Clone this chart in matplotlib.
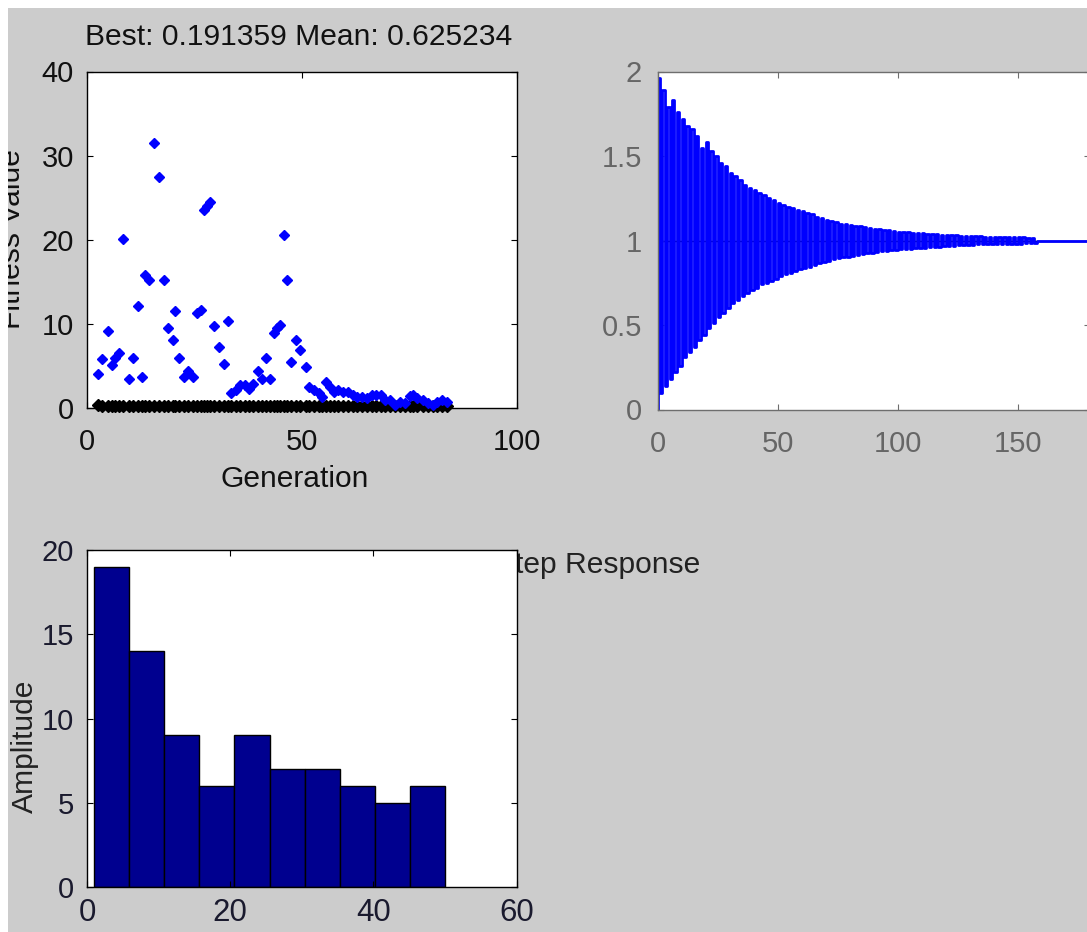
import matplotlib
matplotlib.use("Agg")
import matplotlib.pyplot as plt
from matplotlib.patches import Rectangle

plt.rcParams['font.family'] = ['Liberation Sans', 'DejaVu Sans']

# ---------------- data ----------------
# GA fitness plot (mean = blue, best = black)
gen_x = [2.6, 3.6, 4.8, 5.9, 6.5, 7.5, 8.4, 9.8, 10.8, 11.8, 12.9, 13.5, 14.5, 15.6, 16.7,
         17.8, 18.8, 19.9, 20.5, 21.5, 22.6, 23.6, 24.7, 25.5, 26.4, 27.3, 28.0, 28.6, 29.6,
         30.8, 31.9, 32.9, 33.6, 34.6, 35.6, 36.7, 37.7, 38.7, 39.8, 40.6, 41.6, 42.6, 43.6,
         44.3, 44.9, 45.8, 46.4, 47.4, 48.6, 49.5, 50.9, 51.7, 52.9, 54.0, 54.6, 55.5, 56.4,
         57.4, 58.4, 59.6, 60.6, 61.8, 62.9, 63.9, 65.0, 66.2, 67.2, 68.3, 69.3, 70.5, 71.6,
         72.8, 74.0, 75.1, 75.9, 76.8, 78.2, 79.4, 80.4, 81.3, 82.5, 83.7]
mean_fit = [4.05, 5.8, 9.2, 5.1, 6.0, 6.5, 20.1, 3.5, 6.0, 12.1, 3.7, 15.8, 15.2, 31.5, 27.5,
            15.2, 9.5, 8.1, 11.5, 6.0, 3.7, 4.4, 3.7, 11.3, 11.6, 23.5, 24.0, 24.5, 9.8,
            7.2, 5.2, 10.4, 1.75, 2.1, 2.7, 2.7, 2.3, 2.9, 4.4, 3.5, 6.0, 3.5, 8.9,
            9.5, 9.9, 20.6, 15.2, 5.5, 8.1, 6.9, 4.9, 2.5, 2.1, 1.75, 1.35, 3.1, 2.5,
            1.9, 2.1, 1.9, 1.9, 1.55, 1.35, 1.35, 1.15, 1.55, 1.55, 1.55, 0.95, 0.95, 0.35,
            0.75, 0.55, 1.45, 1.55, 1.15, 0.95, 0.55, 0.35, 0.75, 0.95, 0.75]
best_fit = [0.30, 0.29, 0.28, 0.27, 0.26, 0.26, 0.25, 0.25, 0.24, 0.24, 0.24, 0.23, 0.23, 0.23, 0.23,
            0.22, 0.22, 0.22, 0.22, 0.22, 0.22, 0.21, 0.21, 0.21, 0.21, 0.21, 0.21, 0.21, 0.21,
            0.21, 0.20, 0.20, 0.20, 0.20, 0.20, 0.20, 0.20, 0.20, 0.20, 0.20, 0.20, 0.20, 0.20,
            0.20, 0.20, 0.20, 0.20, 0.20, 0.20, 0.20, 0.20, 0.20, 0.20, 0.20, 0.20, 0.20, 0.20,
            0.20, 0.20, 0.20, 0.20, 0.20, 0.20, 0.20, 0.20, 0.19, 0.19, 0.19, 0.19, 0.19, 0.19,
            0.19, 0.19, 0.19, 0.19, 0.19, 0.19, 0.19, 0.19, 0.19, 0.19, 0.19]
best_val = 0.191359
mean_val = 0.625234

# step response: per-cycle excursions above / below the final value 1
step_upper = [0.96, 0.89, 0.79, 0.83, 0.76, 0.72, 0.68, 0.66, 0.62, 0.55, 0.58, 0.53, 0.50, 0.46,
              0.44, 0.40, 0.38, 0.36, 0.33, 0.31, 0.30, 0.28, 0.27, 0.25, 0.24, 0.22, 0.21, 0.20,
              0.19, 0.18, 0.175, 0.16, 0.155, 0.14, 0.135, 0.12, 0.115, 0.11, 0.10, 0.097, 0.093,
              0.088, 0.083, 0.078, 0.074, 0.07, 0.067, 0.063, 0.06, 0.056, 0.053, 0.051, 0.049,
              0.047, 0.045, 0.043, 0.041, 0.039, 0.037, 0.035, 0.034, 0.032, 0.030, 0.028, 0.026,
              0.024, 0.024, 0.024, 0.023, 0.023, 0.022, 0.022, 0.021, 0.021, 0.020, 0.020, 0.018,
              0.017, 0.015]
step_lower = [0.90, 0.86, 0.82, 0.78, 0.74, 0.69, 0.66, 0.63, 0.59, 0.56, 0.52, 0.49, 0.45, 0.43,
              0.40, 0.37, 0.35, 0.33, 0.31, 0.29, 0.28, 0.26, 0.25, 0.24, 0.23, 0.21, 0.20, 0.19,
              0.18, 0.17, 0.165, 0.155, 0.145, 0.135, 0.125, 0.12, 0.11, 0.105, 0.10, 0.095, 0.09,
              0.085, 0.08, 0.076, 0.072, 0.068, 0.065, 0.061, 0.058, 0.055, 0.052, 0.05, 0.048,
              0.046, 0.044, 0.042, 0.04, 0.038, 0.036, 0.034, 0.033, 0.031, 0.029, 0.027, 0.025,
              0.024, 0.023, 0.023, 0.022, 0.022, 0.021, 0.021, 0.020, 0.020, 0.019, 0.019, 0.017,
              0.016, 0.014]
step_dt = 1.0
step_final = 1.0
step_tend = 180

# histogram
hist_edges = [1.0, 5.9, 10.8, 15.7, 20.6, 25.5, 30.4, 35.3, 40.2, 45.1, 50.0]
hist_counts = [19, 14, 9, 6, 9, 7, 7, 6, 5, 6]

# ---------------- figure ----------------
W, H = 1087, 932
fig = plt.figure(figsize=(W / 100, H / 100), dpi=100, facecolor='#cccccc')

def px_axes(l, t, r, b):
    return fig.add_axes([l / W, 1 - b / H, (r - l) / W, (b - t) / H])

FS = 21.6
TFS = 21
TXT = '#111111'
GRAY = '#6e6e6e'

def style(ax, col, lab_col, xpad=14.5, ypad=9.5):
    for s in ax.spines.values():
        s.set_color(col)
        s.set_linewidth(1.0)
    ax.tick_params(direction='in', length=4, width=0.8, colors=col,
                   top=True, right=True, labelsize=TFS, labelcolor=lab_col)
    ax.tick_params(axis='x', pad=xpad)
    ax.tick_params(axis='y', pad=ypad)

# --- axes 1: GA fitness ---
ax1 = px_axes(87, 71.5, 517, 408)
ax1.set_facecolor('white')
ax1.plot(gen_x, best_fit, linestyle='none', marker='D', ms=6.2, color='black', mec='black',
         zorder=3, clip_on=False)
ax1.plot(gen_x, mean_fit, linestyle='none', marker='D', ms=5.6, color='#0000ff', mec='#0000ff',
         zorder=4, clip_on=False)
ax1.set_xlim(0, 100)
ax1.set_ylim(0, 40)
ax1.set_xticks([0, 50, 100])
ax1.set_yticks([0, 10, 20, 30, 40])
style(ax1, 'black', TXT)

fig.text(298.5 / W, 1 - 45 / H, f'Best: {best_val:.6f} Mean: {mean_val:.6f}',
         ha='center', va='baseline', fontsize=FS, color=TXT)
fig.text(295 / W, 1 - 487 / H, 'Generation', ha='center', va='baseline', fontsize=FS, color=TXT)
fig.text(26 / W, 1 - 239 / H, 'Fitness Value', rotation=90, ha='right', va='center',
         fontsize=FS, color=TXT)

# --- axes 2: step response ---
ax2 = px_axes(657.5, 71.5, 1089.5, 409.5)
ax2.set_facecolor('white')
t_pts = [0.0]
y_pts = [0.0]
for k, (u, l) in enumerate(zip(step_upper, step_lower)):
    t_pts += [2 * k * step_dt, (2 * k + 1) * step_dt]
    y_pts += [step_final + u, step_final - l]
t_pts += [2 * len(step_upper) * step_dt, step_tend]
y_pts += [step_final, step_final]
ax2.axhline(step_final, color='black', lw=1.0, zorder=1)
ax2.step(t_pts, y_pts, where='post', color='#0000ff', lw=2.0, zorder=2)
ax2.set_xlim(0, 180)
ax2.set_ylim(0, 2)
ax2.set_xticks([0, 50, 100, 150])
ax2.set_yticks([0, 0.5, 1, 1.5, 2])
ax2.set_yticklabels(['0', '0.5', '1', '1.5', '2'])
style(ax2, GRAY, '#666666', xpad=14.5, ypad=11)

# hidden step-response title and ylabel (under histogram axes)
fig.text(495 / W, 1 - 573 / H, 'Step Response', ha='left', va='baseline',
         fontsize=FS, color='#222222', zorder=-1)
fig.text(11 / W, 1 - 746 / H, 'Amplitude', rotation=90, ha='left', va='center',
         fontsize=FS, color='#222222')

# --- axes 3: histogram ---
ax3 = px_axes(87, 550, 516.5, 887)
ax3.set_facecolor('white')
lefts = hist_edges[:-1]
widths = [hist_edges[i + 1] - hist_edges[i] for i in range(len(hist_counts))]
ax3.bar(lefts, hist_counts, width=widths, align='edge', color='#00008f',
        edgecolor='black', linewidth=1.0)
ax3.set_xlim(0, 60)
ax3.set_ylim(0, 20)
ax3.set_xticks([0, 20, 40, 60])
ax3.set_yticks([0, 5, 10, 15, 20])
style(ax3, 'black', '#1a1a2e', xpad=8, ypad=9.5)
for lab in ax3.get_xticklabels():
    lab.set_fontsize(TFS + 1.5)

# white screenshot border (top and left)
fig.patches.append(Rectangle((0, 0), 8 / W, 1, transform=fig.transFigure,
                             facecolor='white', edgecolor='none', zorder=20))
fig.patches.append(Rectangle((0, 1 - 8 / H), 1, 8 / H, transform=fig.transFigure,
                             facecolor='white', edgecolor='none', zorder=20))

fig.savefig('out.png', dpi=100, facecolor=fig.get_facecolor())
